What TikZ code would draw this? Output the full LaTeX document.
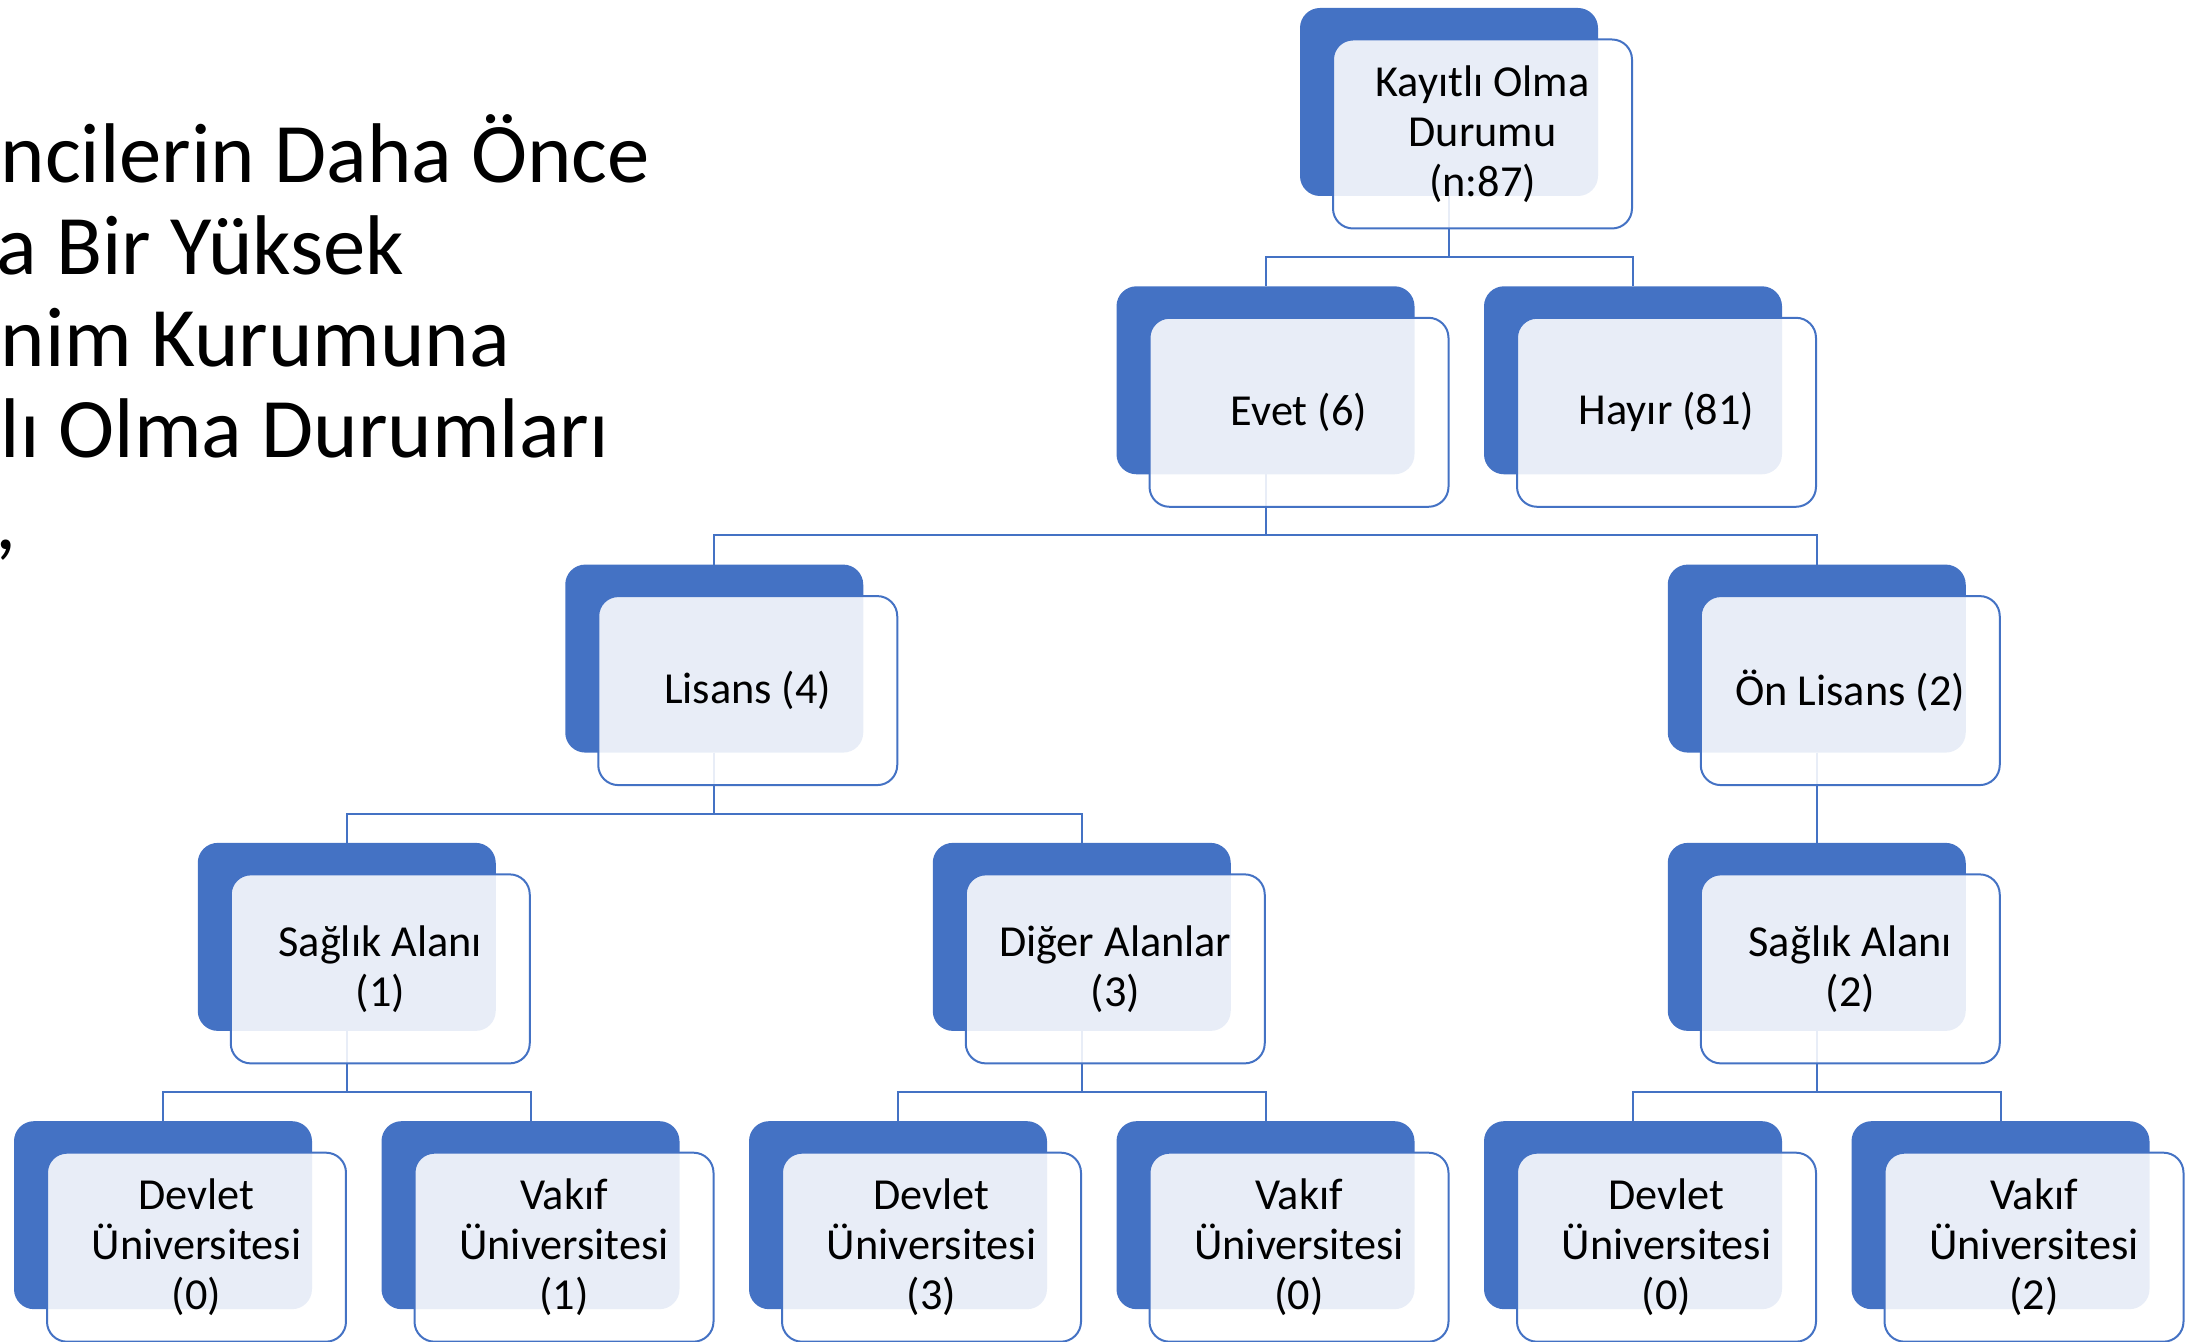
\documentclass[tikz,border=0pt]{standalone}
\usepackage{fontspec}
\setmainfont{Carlito}
\usetikzlibrary{backgrounds}
\definecolor{accent}{HTML}{4472C4}
\tikzset {
    style A/.style={
        fill=accent,
        draw=none,
        rectangle, % back plate
        rounded corners=2mm,
        minimum width=29.8mm,
        minimum height=18.8mm,
        outer sep=0pt,
    },
    style B/.style={
        fill=white,
        fill opacity=0.88,
        text opacity=1,
        draw=accent,
        line width=0.2mm,
        rectangle, % front card
        rounded corners=2mm,
        minimum width=29.9mm,
        minimum height=18.9mm,
        align=center,
        xshift=3.35mm,
        yshift=-3.2mm,
        font=\fontsize{12.6pt}{14.2pt}\selectfont,
    },
    style T/.style={
        anchor=base west,
        inner sep=0pt,
        font=\fontsize{24.1pt}{26pt}\selectfont,
    },
    link/.style={draw=accent, line width=0.2mm},
}

\begin{document}
\begin{tikzpicture}[x=0.1mm, y=-0.1mm]
        \useasboundingbox (0,0) rectangle (2199,1342);

        % title, cut at the left edge
        \node[style T] at (0,183) (t1) {ncilerin Daha Önce};
        \node[style T] at (-4,275) (t2) {a Bir Yüksek};
        \node[style T] at (0,367) (t3) {nim Kurumuna};
        \node[style T] at (0,458) (t4) {lı Olma Durumları};
        \node[style T] at (-5,550) (t5) {,};

        \node[style A] at (1449,102) (kayit) {};
        \node[style B] at (kayit) (kayitF) {Kayıtlı Olma\\Durumu\\(n:87)};

        \node[style A] at (1265.5,380.3) (evet) {};
        \node[style B] at (evet) (evetF) {Evet (6)};
        \node[style A] at (1633,380.3) (hayir) {};
        \node[style B] at (hayir) (hayirF) {Hayır (81)};

        \node[style A] at (714.25,658.6) (lisans) {};
        \node[style B] at (lisans) (lisansF) {Lisans (4)};
        \node[style A] at (1816.75,658.6) (onlisans) {};
        \node[style B] at (onlisans) (onlisansF) {Ön Lisans (2)};

        \node[style A] at (346.75,936.9) (saglikA) {};
        \node[style B] at (saglikA) (saglikAF) {Sağlık Alanı\\(1)};
        \node[style A] at (1081.75,936.9) (diger) {};
        \node[style B] at (diger) (digerF) {Diğer Alanlar\\(3)};
        \node[style A] at (1816.75,936.9) (saglikB) {};
        \node[style B] at (saglikB) (saglikBF) {Sağlık Alanı\\(2)};

        \node[style A] at (163,1215.2) (devletA) {};
        \node[style B] at (devletA) (devletAF) {Devlet\\Üniversitesi\\(0)};
        \node[style A] at (530.5,1215.2) (vakifA) {};
        \node[style B] at (vakifA) (vakifAF) {Vakıf\\Üniversitesi\\(1)};
        \node[style A] at (898,1215.2) (devletB) {};
        \node[style B] at (devletB) (devletBF) {Devlet\\Üniversitesi\\(3)};
        \node[style A] at (1265.5,1215.2) (vakifB) {};
        \node[style B] at (vakifB) (vakifBF) {Vakıf\\Üniversitesi\\(0)};
        \node[style A] at (1633,1215.2) (devletC) {};
        \node[style B] at (devletC) (devletCF) {Devlet\\Üniversitesi\\(0)};
        \node[style A] at (2000.5,1215.2) (vakifC) {};
        \node[style B] at (vakifC) (vakifCF) {Vakıf\\Üniversitesi\\(2)};

        % elbow connectors under the cards
        \begin{scope}[on background layer]
            \draw[link] (kayit.south) -- ++(0,61) -| (evet.north);
            \draw[link] (kayit.south) -- ++(0,61) -| (hayir.north);
            \draw[link] (evet.south) -- ++(0,61) -| (lisans.north);
            \draw[link] (evet.south) -- ++(0,61) -| (onlisans.north);
            \draw[link] (lisans.south) -- ++(0,61) -| (saglikA.north);
            \draw[link] (lisans.south) -- ++(0,61) -| (diger.north);
            \draw[link] (onlisans.south) -- (saglikB.north);
            \draw[link] (saglikA.south) -- ++(0,61) -| (devletA.north);
            \draw[link] (saglikA.south) -- ++(0,61) -| (vakifA.north);
            \draw[link] (diger.south) -- ++(0,61) -| (devletB.north);
            \draw[link] (diger.south) -- ++(0,61) -| (vakifB.north);
            \draw[link] (saglikB.south) -- ++(0,61) -| (devletC.north);
            \draw[link] (saglikB.south) -- ++(0,61) -| (vakifC.north);
        \end{scope}
    \end{tikzpicture}
\end{document}
